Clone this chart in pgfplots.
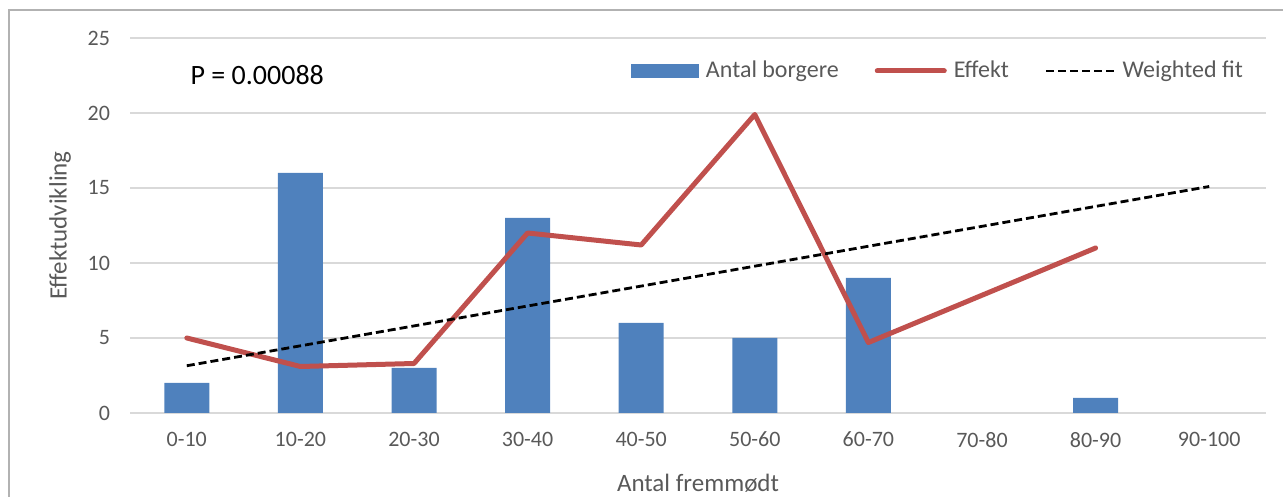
\documentclass[border=0pt]{standalone}
\usepackage{fontspec}
\setmainfont{Carlito}
\usepackage{pgfplots}
\pgfplotsset{compat=1.18}
\definecolor{barblue}{HTML}{4F81BD}
\definecolor{linered}{HTML}{C0504D}
\definecolor{txtgray}{HTML}{595959}
\definecolor{gridgray}{HTML}{D9D9D9}
\begin{document}
\begin{tikzpicture}[x=0.5pt,y=0.5pt]
\useasboundingbox (0,0) rectangle (1283,497);
\draw[gray!60, line width=1.2pt] (9,-5) -- (9,487) -- (1290,487);
\begin{axis}[
    at={(130pt*0.5,84pt*0.5)}, anchor=south west,
    scale only axis,
    width=568pt, height=187.5pt,
    xmin=-0.5, xmax=9.5,
    ymin=0, ymax=25,
    ytick={0,5,...,25},
    xtick={0,...,9},
    xticklabels={0-10,10-20,20-30,30-40,40-50,50-60,60-70,70-80,80-90,90-100},
    axis line style={draw=none},
    major tick length=0pt,
    ymajorgrids,
    grid style={gridgray, line width=0.8pt},
    tick label style={font=\fontsize{11}{13}\selectfont, text=txtgray},
    /pgf/number format/assume math mode=true,
    yticklabel style={xshift=-6.5pt},
    xticklabel style={yshift=-6pt},
    xlabel={Antal fremmødt},
    ylabel={Effektudvikling},
    label style={font=\fontsize{12.5}{14}\selectfont, text=txtgray},
    xlabel style={at={(axis description cs:0.5,-0.1867)}, anchor=center},
    ylabel style={at={(axis description cs:-0.0616,0.5)}, anchor=center},
    legend columns=3,
    legend style={at={(rel axis cs:0.441,0.912)}, anchor=west,
        inner sep=0pt, outer sep=0pt,
        draw=none, fill=none, font=\fontsize{12}{14}\selectfont, text=txtgray,
        nodes={inner sep=0pt},
        /tikz/every odd column/.append style={column sep=3.5pt},
        /tikz/every even column/.append style={column sep=18pt}},
]
% bars with value 0 (70-80, 90-100) are left out: Excel draws nothing there
\addplot[ybar, bar width=22.5pt, fill=barblue, draw=none,
    legend image code/.code={\fill[barblue] (0pt,-3.5pt) rectangle (34pt,3.5pt);}]
    coordinates {(0,2) (1,16) (2,3) (3,13) (4,6) (5,5) (6,9) (8,1)};
\addlegendentry{Antal borgere}
\addplot[linered, line width=2.5pt, line join=round, line cap=round,
    legend image code/.code={\draw[linered, line width=2.5pt, line cap=round] (1.25pt,0pt) -- (34.75pt,0pt);}]
    coordinates {(0,5) (1,3.1) (2,3.3) (3,12) (4,11.2) (5,19.9) (6,4.7) (8,11)};
\addlegendentry{Effekt}
\addplot[black, line width=1.4pt, dash pattern=on 4pt off 2pt,
    legend image code/.code={\draw[black, line width=1.4pt, dash pattern=on 4pt off 2pt] (0pt,0pt) -- (34pt,0pt);}]
    coordinates {(0,3.15) (9,15.1)};
\addlegendentry{Weighted fit}
\node[anchor=west, font=\fontsize{14}{16}\selectfont, inner sep=0pt] at (axis cs:0.03,22.5) {P = 0.00088};
\end{axis}
\end{tikzpicture}
\end{document}
